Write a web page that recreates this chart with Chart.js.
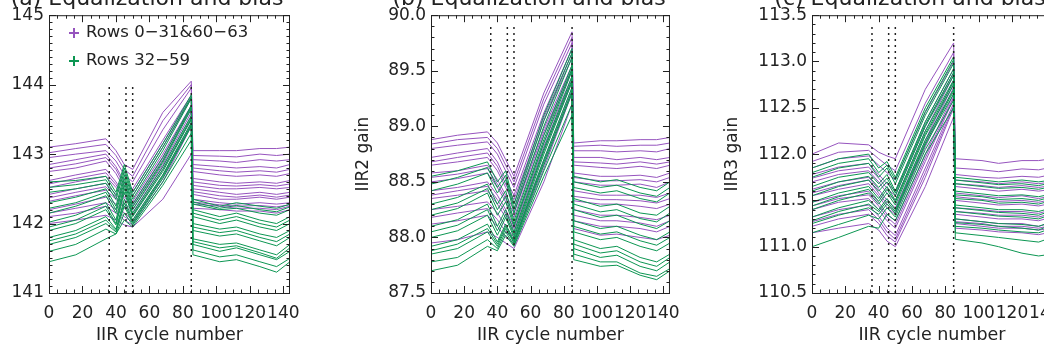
<!DOCTYPE html>
<html>
<head>
<meta charset="utf-8">
<script src="https://cdn.jsdelivr.net/npm/chart.js@4.4.1/dist/chart.umd.min.js"></script>
<style>
  html, body { margin: 0; padding: 0; background: #fff; overflow: hidden; width: 1044px; height: 358px; }
  canvas { position: absolute; top: 0; }
</style>
</head>
<body>
<canvas id="gain1" width="310" height="358" style="left:0"></canvas>
<canvas id="gain2" width="340" height="358" style="left:350px"></canvas>
<canvas id="gain3" width="372" height="358" style="left:700px"></canvas>
<script>
// IIR cycle numbers where each row was sampled
const cycles = [0, 16, 34, 40, 45, 50, 68, 85, 86, 102, 112, 126, 136, 144];
// vertical dotted markers
const markerCycles = [36, 46, 50, 85];

// IIR1 gain, rows 0-31 & 60-63
const gain1Purple = [
  [143.10, 143.15, 143.22, 143.05, 142.85, 142.78, 143.60, 144.05, 143.05, 143.05, 143.05, 143.08, 143.08, 143.10],
  [143.02, 143.08, 143.14, 142.98, 142.78, 142.68, 143.48, 144.00, 142.98, 142.97, 142.96, 143.00, 142.98, 143.00],
  [142.95, 143.00, 143.05, 142.90, 142.70, 142.60, 143.35, 143.95, 142.92, 142.90, 142.88, 142.92, 142.90, 142.92],
  [142.85, 142.92, 143.00, 142.82, 142.60, 142.50, 143.20, 143.85, 142.85, 142.82, 142.80, 142.82, 142.80, 142.85],
  [142.80, 142.86, 142.95, 142.78, 142.55, 142.45, 143.15, 143.82, 142.80, 142.76, 142.74, 142.76, 142.74, 142.78],
  [142.75, 142.80, 142.90, 142.72, 142.50, 142.40, 143.10, 143.80, 142.75, 142.70, 142.68, 142.70, 142.68, 142.72],
  [142.62, 142.70, 142.78, 142.60, 142.42, 142.32, 143.00, 143.70, 142.65, 142.60, 142.58, 142.60, 142.58, 142.62],
  [142.57, 142.65, 142.73, 142.56, 142.38, 142.28, 142.96, 143.68, 142.60, 142.55, 142.54, 142.56, 142.54, 142.57],
  [142.52, 142.60, 142.68, 142.52, 142.35, 142.25, 142.92, 143.65, 142.55, 142.50, 142.50, 142.52, 142.50, 142.52],
  [142.42, 142.50, 142.58, 142.42, 142.28, 142.20, 142.85, 143.60, 142.50, 142.45, 142.42, 142.45, 142.42, 142.45],
  [142.37, 142.45, 142.53, 142.38, 142.25, 142.16, 142.82, 143.55, 142.46, 142.40, 142.38, 142.41, 142.38, 142.41],
  [142.32, 142.40, 142.48, 142.35, 142.22, 142.12, 142.78, 143.50, 142.42, 142.35, 142.35, 142.38, 142.35, 142.38],
  [142.20, 142.28, 142.38, 142.28, 142.15, 142.05, 142.70, 143.45, 142.35, 142.30, 142.28, 142.30, 142.28, 142.30],
  [142.15, 142.22, 142.30, 142.20, 142.10, 142.02, 142.65, 143.42, 142.31, 142.27, 142.25, 142.26, 142.24, 142.27],
  [142.10, 142.15, 142.25, 142.15, 142.05, 141.98, 142.60, 143.40, 142.28, 142.25, 142.22, 142.22, 142.20, 142.25],
  [142.00, 142.05, 142.12, 142.05, 141.98, 141.95, 142.35, 143.00, 142.22, 142.20, 142.18, 142.18, 142.15, 142.20]
];
// IIR1 gain, rows 32-59
const gain1Green = [
  [142.60, 142.62, 142.68, 142.45, 142.85, 142.45, 143.15, 143.85, 142.35, 142.25, 142.30, 142.25, 142.22, 142.28],
  [142.52, 142.56, 142.63, 142.40, 142.80, 142.40, 143.10, 143.82, 142.31, 142.22, 142.26, 142.20, 142.17, 142.24],
  [142.45, 142.50, 142.58, 142.35, 142.75, 142.35, 143.05, 143.80, 142.28, 142.20, 142.22, 142.15, 142.12, 142.20],
  [142.30, 142.38, 142.50, 142.25, 142.70, 142.28, 142.95, 143.70, 142.20, 142.10, 142.15, 142.05, 142.00, 142.10],
  [142.22, 142.30, 142.45, 142.20, 142.65, 142.24, 142.90, 143.68, 142.15, 142.05, 142.10, 142.00, 141.95, 142.05],
  [142.15, 142.25, 142.40, 142.15, 142.60, 142.20, 142.88, 143.65, 142.10, 142.00, 142.05, 141.95, 141.90, 142.00],
  [142.02, 142.12, 142.30, 142.05, 142.55, 142.15, 142.82, 143.55, 142.00, 141.92, 141.95, 141.85, 141.80, 141.90],
  [141.95, 142.05, 142.25, 142.00, 142.50, 142.12, 142.78, 143.52, 141.95, 141.87, 141.90, 141.80, 141.74, 141.85],
  [141.90, 142.00, 142.20, 141.98, 142.45, 142.10, 142.75, 143.50, 141.90, 141.82, 141.85, 141.75, 141.68, 141.80],
  [141.80, 141.90, 142.10, 141.92, 142.35, 142.05, 142.70, 143.45, 141.78, 141.70, 141.72, 141.62, 141.55, 141.70],
  [141.75, 141.85, 142.05, 141.90, 142.30, 142.02, 142.68, 143.42, 141.74, 141.65, 141.68, 141.58, 141.50, 141.65],
  [141.70, 141.80, 142.00, 141.88, 142.25, 142.00, 142.65, 143.40, 141.70, 141.60, 141.65, 141.55, 141.48, 141.60],
  [141.60, 141.70, 141.92, 141.85, 142.15, 141.98, 142.60, 143.30, 141.62, 141.52, 141.55, 141.45, 141.38, 141.50],
  [141.45, 141.55, 141.78, 141.85, 142.05, 141.95, 142.55, 143.20, 141.55, 141.45, 141.48, 141.38, 141.30, 141.45]
];

// IIR2 gain
const gain2Purple = [
  [88.88, 88.92, 88.95, 88.85, 88.70, 88.55, 89.30, 89.85, 88.85, 88.87, 88.87, 88.88, 88.88, 88.90],
  [88.84, 88.88, 88.90, 88.80, 88.65, 88.50, 89.25, 89.80, 88.82, 88.83, 88.82, 88.83, 88.83, 88.85],
  [88.80, 88.83, 88.86, 88.75, 88.60, 88.45, 89.20, 89.75, 88.78, 88.78, 88.77, 88.78, 88.77, 88.80],
  [88.72, 88.76, 88.80, 88.68, 88.52, 88.38, 89.12, 89.70, 88.72, 88.72, 88.70, 88.72, 88.70, 88.72],
  [88.68, 88.72, 88.76, 88.64, 88.48, 88.34, 89.08, 89.66, 88.68, 88.67, 88.66, 88.68, 88.66, 88.68],
  [88.65, 88.68, 88.72, 88.60, 88.45, 88.30, 89.05, 89.62, 88.65, 88.63, 88.62, 88.64, 88.62, 88.65],
  [88.58, 88.60, 88.65, 88.52, 88.38, 88.25, 88.98, 89.55, 88.58, 88.55, 88.55, 88.56, 88.54, 88.58],
  [88.54, 88.57, 88.62, 88.48, 88.35, 88.22, 88.95, 89.52, 88.54, 88.51, 88.51, 88.52, 88.50, 88.54],
  [88.50, 88.53, 88.58, 88.45, 88.32, 88.18, 88.92, 89.50, 88.50, 88.47, 88.47, 88.48, 88.45, 88.50],
  [88.42, 88.45, 88.50, 88.38, 88.25, 88.10, 88.85, 89.45, 88.42, 88.38, 88.38, 88.38, 88.36, 88.40],
  [88.38, 88.42, 88.46, 88.34, 88.22, 88.08, 88.82, 89.42, 88.37, 88.34, 88.34, 88.33, 88.31, 88.35],
  [88.35, 88.38, 88.42, 88.30, 88.18, 88.05, 88.78, 89.40, 88.33, 88.30, 88.30, 88.28, 88.26, 88.30],
  [88.25, 88.28, 88.32, 88.22, 88.10, 88.00, 88.70, 89.35, 88.25, 88.20, 88.20, 88.18, 88.16, 88.20],
  [88.18, 88.22, 88.26, 88.16, 88.05, 87.98, 88.66, 89.32, 88.20, 88.15, 88.15, 88.13, 88.10, 88.15],
  [88.12, 88.15, 88.20, 88.10, 88.00, 87.95, 88.62, 89.30, 88.15, 88.10, 88.10, 88.08, 88.05, 88.10],
  [87.95, 87.98, 88.05, 88.00, 87.95, 87.90, 88.50, 89.20, 88.08, 88.02, 88.03, 88.00, 87.98, 88.02]
];
const gain2Green = [
  [88.55, 88.60, 88.68, 88.50, 88.60, 88.30, 89.10, 89.70, 88.55, 88.50, 88.52, 88.45, 88.42, 88.50],
  [88.48, 88.54, 88.63, 88.45, 88.56, 88.26, 89.05, 89.66, 88.50, 88.45, 88.47, 88.40, 88.37, 88.45],
  [88.42, 88.48, 88.58, 88.40, 88.52, 88.22, 89.00, 89.62, 88.45, 88.40, 88.42, 88.35, 88.32, 88.40],
  [88.30, 88.36, 88.48, 88.30, 88.42, 88.15, 88.92, 89.55, 88.35, 88.28, 88.30, 88.22, 88.20, 88.28],
  [88.25, 88.31, 88.44, 88.25, 88.37, 88.12, 88.88, 89.52, 88.30, 88.23, 88.25, 88.17, 88.14, 88.22],
  [88.20, 88.26, 88.40, 88.20, 88.32, 88.10, 88.85, 89.50, 88.25, 88.18, 88.20, 88.12, 88.08, 88.15],
  [88.10, 88.16, 88.30, 88.10, 88.25, 88.05, 88.80, 89.45, 88.15, 88.08, 88.10, 88.02, 87.98, 88.05],
  [88.05, 88.11, 88.25, 88.06, 88.21, 88.02, 88.78, 89.42, 88.10, 88.03, 88.05, 87.97, 87.93, 88.00],
  [88.00, 88.06, 88.20, 88.02, 88.18, 88.00, 88.75, 89.40, 88.05, 87.98, 88.00, 87.92, 87.88, 87.95],
  [87.92, 87.98, 88.12, 87.96, 88.12, 87.97, 88.70, 89.35, 87.98, 87.90, 87.92, 87.82, 87.78, 87.85],
  [87.88, 87.94, 88.08, 87.94, 88.10, 87.96, 88.68, 89.32, 87.94, 87.86, 87.88, 87.78, 87.74, 87.82],
  [87.85, 87.90, 88.05, 87.92, 88.08, 87.95, 88.65, 89.30, 87.90, 87.82, 87.84, 87.74, 87.70, 87.78],
  [87.78, 87.82, 87.98, 87.90, 88.05, 87.93, 88.60, 89.20, 87.85, 87.78, 87.78, 87.68, 87.65, 87.72],
  [87.70, 87.75, 87.92, 87.88, 88.02, 87.92, 88.55, 89.10, 87.80, 87.74, 87.75, 87.66, 87.62, 87.70]
];

// IIR3 gain
const gain3Purple = [
  [112.00, 112.12, 112.10, 112.02, 111.98, 111.95, 112.70, 113.20, 111.95, 111.93, 111.90, 111.93, 111.93, 111.95],
  [111.92, 112.02, 112.04, 111.95, 111.88, 111.82, 112.55, 113.10, 111.85, 111.83, 111.81, 111.84, 111.83, 111.86],
  [111.85, 111.95, 111.98, 111.88, 111.80, 111.72, 112.45, 113.00, 111.78, 111.75, 111.74, 111.76, 111.75, 111.78],
  [111.78, 111.86, 111.90, 111.78, 111.68, 111.60, 112.35, 112.92, 111.72, 111.70, 111.68, 111.70, 111.68, 111.70],
  [111.74, 111.82, 111.86, 111.74, 111.63, 111.55, 112.30, 112.88, 111.68, 111.66, 111.64, 111.66, 111.64, 111.66],
  [111.70, 111.78, 111.82, 111.70, 111.58, 111.50, 112.25, 112.85, 111.65, 111.62, 111.60, 111.62, 111.60, 111.62],
  [111.62, 111.70, 111.75, 111.62, 111.50, 111.42, 112.15, 112.80, 111.58, 111.55, 111.53, 111.55, 111.52, 111.55],
  [111.58, 111.66, 111.72, 111.58, 111.46, 111.38, 112.12, 112.76, 111.54, 111.51, 111.49, 111.50, 111.48, 111.51],
  [111.55, 111.62, 111.68, 111.55, 111.42, 111.35, 112.08, 112.72, 111.50, 111.47, 111.45, 111.46, 111.44, 111.47],
  [111.48, 111.55, 111.60, 111.48, 111.35, 111.28, 112.00, 112.65, 111.42, 111.40, 111.38, 111.38, 111.36, 111.40],
  [111.44, 111.52, 111.56, 111.44, 111.32, 111.24, 111.96, 112.62, 111.38, 111.36, 111.34, 111.34, 111.32, 111.36],
  [111.40, 111.48, 111.52, 111.40, 111.28, 111.20, 111.92, 112.60, 111.35, 111.32, 111.30, 111.30, 111.28, 111.32],
  [111.32, 111.40, 111.45, 111.33, 111.20, 111.12, 111.85, 112.55, 111.30, 111.27, 111.25, 111.25, 111.22, 111.26],
  [111.27, 111.35, 111.40, 111.29, 111.16, 111.08, 111.80, 112.52, 111.27, 111.25, 111.22, 111.22, 111.20, 111.23],
  [111.22, 111.30, 111.35, 111.25, 111.12, 111.05, 111.75, 112.50, 111.25, 111.22, 111.20, 111.20, 111.18, 111.20],
  [111.15, 111.20, 111.25, 111.18, 111.06, 111.00, 111.65, 112.40, 111.20, 111.18, 111.16, 111.15, 111.13, 111.16]
];
const gain3Green = [
  [111.85, 111.95, 112.00, 111.85, 111.92, 111.75, 112.50, 113.05, 111.75, 111.72, 111.70, 111.72, 111.70, 111.72],
  [111.80, 111.90, 111.95, 111.80, 111.88, 111.72, 112.46, 113.02, 111.72, 111.69, 111.67, 111.68, 111.66, 111.69],
  [111.75, 111.85, 111.90, 111.75, 111.85, 111.68, 112.42, 112.98, 111.68, 111.65, 111.63, 111.64, 111.62, 111.65],
  [111.65, 111.75, 111.80, 111.68, 111.78, 111.60, 112.35, 112.92, 111.60, 111.57, 111.55, 111.56, 111.54, 111.57],
  [111.60, 111.70, 111.76, 111.64, 111.74, 111.58, 112.32, 112.88, 111.56, 111.54, 111.51, 111.52, 111.50, 111.54],
  [111.55, 111.65, 111.72, 111.60, 111.70, 111.55, 112.30, 112.85, 111.52, 111.50, 111.47, 111.48, 111.46, 111.50],
  [111.48, 111.58, 111.65, 111.52, 111.65, 111.50, 112.25, 112.80, 111.45, 111.42, 111.40, 111.40, 111.38, 111.42],
  [111.44, 111.54, 111.62, 111.49, 111.62, 111.48, 112.22, 112.78, 111.42, 111.39, 111.37, 111.36, 111.34, 111.39],
  [111.40, 111.50, 111.58, 111.46, 111.58, 111.45, 112.20, 112.75, 111.38, 111.35, 111.33, 111.32, 111.30, 111.35],
  [111.32, 111.42, 111.50, 111.40, 111.52, 111.40, 112.15, 112.70, 111.30, 111.27, 111.25, 111.24, 111.22, 111.27],
  [111.28, 111.38, 111.46, 111.38, 111.49, 111.38, 112.12, 112.68, 111.26, 111.24, 111.22, 111.20, 111.18, 111.24],
  [111.25, 111.34, 111.42, 111.35, 111.46, 111.36, 112.10, 112.65, 111.22, 111.20, 111.18, 111.16, 111.15, 111.20],
  [111.15, 111.24, 111.34, 111.30, 111.42, 111.32, 112.05, 112.58, 111.15, 111.12, 111.10, 111.07, 111.05, 111.10],
  [111.00, 111.10, 111.22, 111.20, 111.35, 111.28, 112.00, 112.50, 111.08, 111.04, 111.00, 110.93, 110.90, 110.92]
];

const legendLabels = ["Rows 0\u221231&60\u221263", "Rows 32\u221259"];

const PURPLE = "rgb(150, 84, 190)";
const GREEN = "rgb(12, 150, 82)";
const INK = "#222";
const FONT = "DejaVu Sans";

function rowSets(rows, color, order) {
  return rows.map((vals) => ({
    data: vals.map((v, i) => ({ x: cycles[i], y: v })),
    borderColor: color,
    borderWidth: 1,
    pointRadius: 0,
    tension: 0,
    order: order,
  }));
}

function markerSets(bottom, top) {
  return markerCycles.map((c) => ({
    data: [{ x: c, y: bottom }, { x: c, y: top }],
    borderColor: INK,
    borderWidth: 1.5,
    borderDash: [2, 4],
    pointRadius: 0,
    order: 0,
  }));
}

// frame with inward ticks, cut-off title and legend
const decoPlugin = {
  id: "deco",
  afterDatasetsDraw(chart, args, opts) {
    const { ctx, chartArea: a } = chart;
    const xs = chart.scales.x;
    const ys = chart.scales.y;
    ctx.save();
    ctx.strokeStyle = INK;
    ctx.lineWidth = 1;
    ctx.strokeRect(a.left + 0.5, a.top + 0.5, a.right - a.left - 1, a.bottom - a.top);
    ctx.beginPath();
    for (let i = 0; i * 5 <= xs.max; i++) {
      const px = Math.round(xs.getPixelForValue(i * 5)) + 0.5;
      const len = i % 4 === 0 ? 7 : 3.5;
      ctx.moveTo(px, a.bottom); ctx.lineTo(px, a.bottom - len);
      ctx.moveTo(px, a.top); ctx.lineTo(px, a.top + len);
    }
    const nMinor = Math.round((ys.max - ys.min) / 0.1);
    const perMajor = Math.round(opts.yStep / 0.1);
    for (let i = 0; i <= nMinor; i++) {
      const py = Math.round(ys.getPixelForValue(ys.min + i * 0.1)) + 0.5;
      const len = i % perMajor === 0 ? 7 : 3.5;
      ctx.moveTo(a.left, py); ctx.lineTo(a.left + len, py);
      ctx.moveTo(a.right, py); ctx.lineTo(a.right - len, py);
    }
    ctx.stroke();

    ctx.fillStyle = INK;
    ctx.font = "22px '" + FONT + "'";
    ctx.textAlign = "center";
    ctx.textBaseline = "alphabetic";
    ctx.fillText(opts.title, a.left + 98, 5);

    if (opts.legend) {
      const colors = [PURPLE, GREEN];
      ctx.font = "16.5px '" + FONT + "'";
      ctx.textAlign = "left";
      ctx.textBaseline = "middle";
      legendLabels.forEach((label, i) => {
        const cy = 33 + i * 28;
        const cx = a.left + 25;
        ctx.strokeStyle = colors[i];
        ctx.lineWidth = 2;
        ctx.beginPath();
        ctx.moveTo(cx - 5, cy); ctx.lineTo(cx + 5, cy);
        ctx.moveTo(cx, cy - 5); ctx.lineTo(cx, cy + 5);
        ctx.stroke();
        ctx.fillStyle = INK;
        ctx.fillText(label, a.left + 37, cy);
      });
    }
    ctx.restore();
  },
};

function makePanel(id, cfg) {
  new Chart(document.getElementById(id), {
    type: "line",
    data: {
      datasets: [
        ...markerSets(cfg.yMin, cfg.markerTop),
        ...rowSets(cfg.green, GREEN, 1),
        ...rowSets(cfg.purple, PURPLE, 2),
      ],
    },
    options: {
      responsive: false,
      animation: false,
      layout: { padding: { top: 15, right: cfg.padRight, left: 0, bottom: 0 } },
      plugins: {
        legend: { display: false },
        tooltip: { enabled: false },
        deco: { title: cfg.title, legend: cfg.legend, yStep: cfg.yStep },
      },
      scales: {
        x: {
          type: "linear",
          min: 0,
          max: 144,
          afterFit: (s) => { s.height = 65; },
          grid: { display: false, drawTicks: false },
          border: { display: false },
          ticks: {
            stepSize: 20,
            includeBounds: false,
            autoSkip: false,
            maxRotation: 0,
            padding: 10,
            color: INK,
            font: { family: FONT, size: 17 },
          },
          title: {
            display: true,
            text: "IIR cycle number",
            color: INK,
            font: { family: FONT, size: 17.5 },
            padding: { top: 0, bottom: 12 },
          },
        },
        y: {
          min: cfg.yMin,
          max: cfg.yMax,
          afterFit: (s) => { s.width = cfg.axisWidth; },
          grid: { display: false, drawTicks: false },
          border: { display: false },
          ticks: {
            stepSize: cfg.yStep,
            includeBounds: false,
            padding: 5,
            color: INK,
            font: { family: FONT, size: 17 },
            callback: (v) => v.toFixed(cfg.decimals),
          },
          title: {
            display: cfg.yTitle !== "",
            text: cfg.yTitle,
            color: INK,
            font: { family: FONT, size: 17 },
            padding: { top: cfg.yTitlePad, bottom: 0 },
          },
        },
      },
    },
    plugins: [decoPlugin],
  });
}

makePanel("gain1", {
  purple: gain1Purple, green: gain1Green,
  yMin: 141, yMax: 145, yStep: 1, decimals: 0, markerTop: 143.98,
  title: "(a) Equalization and bias", yTitle: "", yTitlePad: 0,
  axisWidth: 49, padRight: 17, legend: true,
});
makePanel("gain2", {
  purple: gain2Purple, green: gain2Green,
  yMin: 87.5, yMax: 90, yStep: 0.5, decimals: 1, markerTop: 89.93,
  title: "(b) Equalization and bias", yTitle: "IIR2 gain", yTitlePad: 3,
  axisWidth: 81, padRight: 16, legend: false,
});
makePanel("gain3", {
  purple: gain3Purple, green: gain3Green,
  yMin: 110.5, yMax: 113.5, yStep: 0.5, decimals: 1, markerTop: 113.41,
  title: "(c) Equalization and bias", yTitle: "IIR3 gain", yTitlePad: 22,
  axisWidth: 112, padRight: 17, legend: false,
});
</script>
</body>
</html>
